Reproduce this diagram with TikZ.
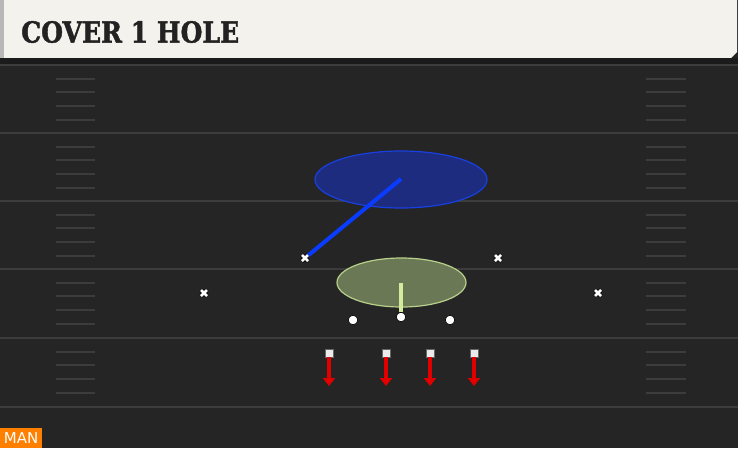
\documentclass[tikz,border=0pt]{standalone}
\usepackage{fontspec}
\setmainfont{DejaVu Serif}
\setsansfont{DejaVu Sans}
\usetikzlibrary{arrows.meta,shapes.geometric}
\definecolor{field}{HTML}{252525}
\definecolor{headbg}{HTML}{F4F2ED}
\definecolor{band}{HTML}{1B1B1B}
\definecolor{yardc}{HTML}{3C3C3C}
\definecolor{titlec}{HTML}{222222}
\definecolor{zonebluefill}{HTML}{1E2C80}
\definecolor{zoneblueline}{HTML}{1840E0}
\definecolor{routeblue}{HTML}{0A3CFF}
\definecolor{zonegreenfill}{HTML}{6B7855}
\definecolor{zonegreenline}{HTML}{B8D08A}
\definecolor{routegreen}{HTML}{D4EB9E}
\definecolor{routered}{HTML}{E00000}
\definecolor{manorange}{HTML}{FF8000}
\tikzset{
  yardline/.style={yardc, line width=2pt},
  hashline/.style={yardc, line width=2pt},
  defx/.style={draw=none, inner sep=0pt, minimum size=10pt, path picture={
     \draw[black, line width=4pt] ([shift={(-3pt,-3pt)}]path picture bounding box.center) -- ([shift={(3pt,3pt)}]path picture bounding box.center);
     \draw[black, line width=4pt] ([shift={(-3pt,3pt)}]path picture bounding box.center) -- ([shift={(3pt,-3pt)}]path picture bounding box.center);
     \draw[white, line width=2.6pt] ([shift={(-3pt,-3pt)}]path picture bounding box.center) -- ([shift={(3pt,3pt)}]path picture bounding box.center);
     \draw[white, line width=2.6pt] ([shift={(-3pt,3pt)}]path picture bounding box.center) -- ([shift={(3pt,-3pt)}]path picture bounding box.center);}},
  offdot/.style={circle, fill=white, draw=black, line width=0.6pt, inner sep=0pt, minimum size=9.5pt},
  recv/.style={rectangle, fill=white!92!black, draw=black!60, line width=0.4pt, inner sep=0pt, minimum size=8pt},
  redroute/.style={routered, line width=3.5pt, -{Triangle[width=12pt,length=8pt]}},
}
\begin{document}
\begin{tikzpicture}[x=1pt,y=-1pt]
\useasboundingbox (0,0) rectangle (738,448);
% field
\fill[field] (0,0) rectangle (738,448);
% header
\fill[headbg] (0,0) -- (737,0) -- (737,52) -- (731,58) -- (0,58) -- cycle;
\fill[white!72!black] (0,0) rectangle (4,58);
\fill[band] (0,58) rectangle (738,64);
\node[anchor=west, inner sep=0pt, text=titlec] (title) at (21,32)
  {\scalebox{0.865}[1]{\fontsize{29}{29}\selectfont\bfseries\addfontfeature{FakeBold=1.6}COVER 1 HOLE}};
% yard lines
\foreach \y in {65,133,201,269,338,407} {
  \draw[yardline] (0,\y) -- (738,\y);
}
% hash marks
\foreach \y in {65,133,201,269,338} {
  \foreach \k in {1,2,3,4} {
    \draw[hashline] (56,\y+13.7*\k) -- (95,\y+13.7*\k);
    \draw[hashline] (646,\y+13.7*\k) -- (686,\y+13.7*\k);
  }
}
% zones
\node[ellipse, minimum width=172pt, minimum height=57pt, fill=zonebluefill, draw=zoneblueline, line width=1.2pt] (deepzone) at (401,179.5) {};
\node[ellipse, minimum width=129pt, minimum height=49pt, fill=zonegreenfill, draw=zonegreenline, line width=1.2pt] (holezone) at (401.5,282.5) {};
% defenders
\node[defx] (d1) at (305,258) {};
\node[defx] (d2) at (498,258) {};
\node[defx] (d3) at (204,293) {};
\node[defx] (d4) at (598,293) {};
% offense line
\node[offdot] (o1) at (353,320) {};
\node[offdot] (o2) at (401,317) {};
\node[offdot] (o3) at (450,320) {};
% routes of defenders
\coordinate (deepend) at (401,179);
\draw[routeblue, line width=4pt] (d1.center) -- (deepend);
\node[defx] at (d1) {};
\coordinate (holeend) at (401,283);
\draw[routegreen, line width=4pt] (o2.north) -- (holeend);
\node[offdot] at (o2) {};
% receivers
\foreach \n/\x in {r1/329,r2/386,r3/430,r4/474} {
  \node[recv] (\n) at (\x,353) {};
  \coordinate (\n end) at (\x,386);
  \draw[redroute] (\n.south) -- (\n end);
}
% man label
\node[fill=manorange, text=white, anchor=south west, inner sep=0pt, minimum width=42pt, minimum height=20pt, font=\sffamily\fontsize{15}{15}\selectfont] (man) at (0,448) {MAN};
\end{tikzpicture}
\end{document}
